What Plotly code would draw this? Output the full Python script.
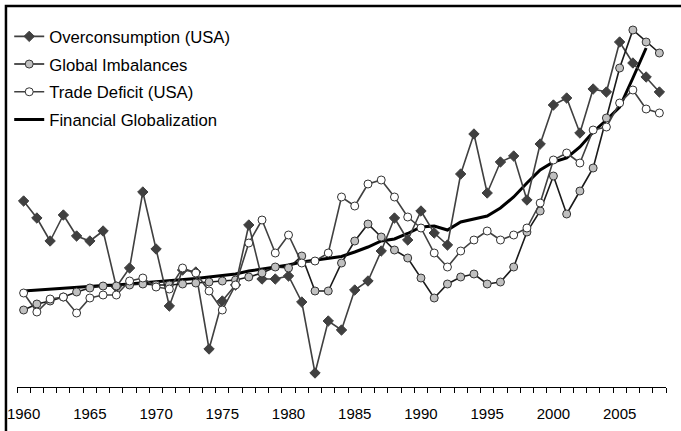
import plotly.graph_objects as go

years = list(range(1960, 2009))
label_years = [1960, 1965, 1970, 1975, 1980, 1985, 1990, 1995, 2000, 2005]
label_text = [str(y) for y in label_years]

overconsumption = [186, 169, 146, 172, 151, 146, 156, 100, 119, 195,
                   138, 81, 117, 115, 38, 86, 102, 162, 108, 108,
                   111, 85, 14, 66, 57, 97, 106, 136, 169, 147,
                   176, 154, 142, 213, 253, 194, 225, 231, 187, 243,
                   282, 289, 254, 298, 295, 345, 324, 310, 295]

global_imbalances = [77, 83, 86, 90, 95, 99, 101, 101, 102, 103,
                     102, 102, 103, 104, 105, 106, 107, 110, 114, 120,
                     119, 131, 96, 96, 124, 146, 163, 150, 137, 129,
                     109, 89, 103, 110, 113, 103, 105, 120, 155, 176,
                     211, 173, 196, 219, 269, 319, 357, 345, 334]

trade_deficit = [94, 75, 88, 90, 74, 89, 92, 92, 106, 109,
                 100, 98, 119, 114, 96, 77, 102, 144, 167, 134,
                 152, 124, 126, 134, 190, 181, 203, 207, 190, 170,
                 159, 134, 120, 136, 147, 156, 147, 152, 159, 184,
                 227, 234, 224, 257, 260, 284, 297, 278, 274]

financial_globalization = [96, 97, 98, 99, 100, 100.5, 101.5, 102, 103, 104,
                           105, 106, 107, 108.5, 110, 111.5, 113, 116, 118, 120,
                           122, 125, 127, 129, 130.5, 135, 140, 146, 148, 153.5,
                           160, 161, 157, 165, 168, 171, 179, 190, 204, 217,
                           225, 229, 240, 255, 267, 280, 309, 339, None]

fig = go.Figure()

fig.add_trace(go.Scatter(
    x=years, y=financial_globalization, name="Financial Globalization",
    mode="lines", line=dict(color="#000000", width=3),
    legendgroup="d", legendrank=4))

fig.add_trace(go.Scatter(
    x=years, y=overconsumption, name="Overconsumption (USA)",
    mode="lines+markers", line=dict(color="#404040", width=1.6),
    marker=dict(symbol="diamond", size=8, color="#404040",
                line=dict(color="#404040", width=1)),
    legendgroup="a", legendrank=1))

fig.add_trace(go.Scatter(
    x=years, y=global_imbalances, name="Global Imbalances",
    mode="lines+markers", line=dict(color="#1a1a1a", width=1.6),
    marker=dict(symbol="circle", size=8, color="#c0c0c0",
                line=dict(color="#333333", width=1)),
    legendgroup="b", legendrank=2))

fig.add_trace(go.Scatter(
    x=years, y=trade_deficit, name="Trade Deficit (USA)",
    mode="lines+markers", line=dict(color="#404040", width=1.6),
    marker=dict(symbol="circle", size=8, color="#ffffff",
                line=dict(color="#333333", width=1)),
    legendgroup="c", legendrank=3))

fig.update_layout(
    width=681, height=431,
    margin=dict(l=17, r=15, t=8, b=44),
    paper_bgcolor="white", plot_bgcolor="white",
    font=dict(family="Liberation Sans, Arial, sans-serif", size=17, color="#000000"),
    showlegend=True,
    legend=dict(x=-0.012, y=0.971, xanchor="left", yanchor="top",
                bgcolor="rgba(0,0,0,0)", tracegroupgap=3,
                traceorder="grouped",
                font=dict(family="Liberation Sans, Arial, sans-serif", size=16.7)),
    xaxis=dict(range=[1959.5, 2008.5], showgrid=False, zeroline=False,
               showline=True, linecolor="#000000", linewidth=1,
               tickvals=[y - 0.5 for y in years] + [2008.5],
               ticks="outside", ticklen=5, tickcolor="#000000", tickwidth=1,
               showticklabels=False),
    xaxis2=dict(range=[1959.5, 2008.5], overlaying="x", side="bottom",
                showgrid=False, zeroline=False, showline=False,
                tickvals=label_years, ticktext=label_text, ticks="",
                tickfont=dict(family="Liberation Sans, Arial, sans-serif", size=15),
                ticklabelstandoff=16),
    yaxis=dict(range=[0, 379], visible=False, showgrid=False, zeroline=False),
    shapes=[
        dict(type="rect", xref="paper", yref="paper",
             x0=-0.017, x1=1.2, y0=-0.3, y1=1.005,
             line=dict(color="#000000", width=2.5),
             fillcolor="rgba(0,0,0,0)", layer="above"),
    ],
)

# invisible trace to anchor the labelled overlay axis
fig.add_trace(go.Scatter(x=[years[0]], y=[None], xaxis="x2", showlegend=False,
                         hoverinfo="skip", mode="markers"))

fig.write_html("out.html", config={"displayModeBar": False},
               post_script="document.body.style.margin='0';")
